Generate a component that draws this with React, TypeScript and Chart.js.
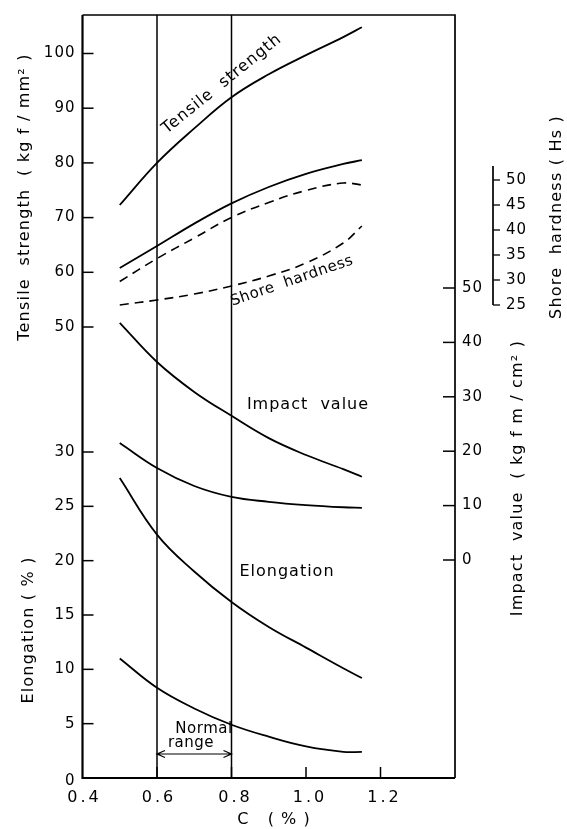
import React, { useEffect, useRef } from "react";
import { Chart, registerables } from "chart.js";

Chart.register(...registerables);

// ---- data ----
const carbon = [0.5, 0.6, 0.7, 0.8, 0.9, 1.0, 1.1, 1.15];
const tensileStrength = [72.3, 80.0, 86.3, 92.0, 96.2, 99.7, 103.0, 104.8];
const tensileLower = [60.8, 64.8, 68.9, 72.6, 75.6, 78.0, 79.8, 80.5];
const shoreUpper = [29.7, 34.3, 38.4, 42.5, 45.5, 47.9, 49.4, 49.0];
const shoreLower = [25.0, 26.0, 27.2, 28.8, 30.8, 33.4, 37.4, 40.8];
const impactUpper = [43.6, 36.4, 30.9, 26.5, 22.4, 19.3, 16.7, 15.3];
const impactLower = [21.5, 16.9, 13.6, 11.6, 10.7, 10.1, 9.7, 9.6];
const elongation = [27.6, 22.4, 19.0, 16.2, 13.9, 12.0, 10.1, 9.2];
const elongationLower = [11.0, 8.3, 6.4, 4.9, 3.8, 2.9, 2.4, 2.4];

const tensileTicks = [50, 60, 70, 80, 90, 100];
const elongationTicks = [0, 5, 10, 15, 20, 25, 30];
const impactTicks = [0, 10, 20, 30, 40, 50];
const shoreTicks = [25, 30, 35, 40, 45, 50];
const carbonTicks = [0.4, 0.6, 0.8, 1.0, 1.2];
const carbonTickLabels = ["0.4", "0.6", "0.8", "1.0", "1.2"];
const normalRange = [0.6, 0.8];

// ---- layout ----
const AREA_TOP = 15;
const AREA_BOTTOM = 778;
const AREA_LEFT = 82.5;
const AREA_RIGHT = 455;
const W = 567;
const H = 829;

// range of a linear axis from two reference ticks (value, pixel)
function axisRange(v1: number, p1: number, v2: number, p2: number) {
  const perPx = (v2 - v1) / (p1 - p2);
  return {
    min: v1 - (AREA_BOTTOM - p1) * perPx,
    max: v2 + (p2 - AREA_TOP) * perPx,
  };
}

const rT = axisRange(50, 327, 100, 53.5);
const rE = axisRange(0, 778, 30, 452);
const rI = axisRange(0, 560, 50, 288);
const rS = axisRange(25, 305, 50, 180);

const FONT = '"DejaVu Sans", sans-serif';

function pts(ys: number[]) {
  return carbon.map((c, i) => ({ x: c, y: ys[i] }));
}

const decorPlugin = {
  id: "decor",
  afterDatasetsDraw(chart: any) {
    const { ctx, chartArea: a, scales } = chart;
    const sx = scales.x;
    const yT = scales.yT;
    const yE = scales.yE;
    const yI = scales.yI;
    const yS = scales.yS;
    ctx.save();
    ctx.strokeStyle = "#000";
    ctx.fillStyle = "#000";
    ctx.lineCap = "butt";
    const spacing = (s: string) => {
      try {
        (ctx as any).letterSpacing = s;
      } catch (e) {
        /* ignore */
      }
    };

    // frame
    ctx.lineWidth = 2.2;
    ctx.beginPath();
    ctx.moveTo(a.left, a.top);
    ctx.lineTo(a.left, a.bottom);
    ctx.lineTo(a.right, a.bottom);
    ctx.stroke();
    ctx.lineWidth = 1.7;
    ctx.beginPath();
    ctx.moveTo(a.left, a.top);
    ctx.lineTo(a.right, a.top);
    ctx.lineTo(a.right, a.bottom);
    ctx.stroke();

    // normal range verticals
    ctx.lineWidth = 1.5;
    normalRange.forEach((v) => {
      const px = sx.getPixelForValue(v);
      ctx.beginPath();
      ctx.moveTo(px, a.top);
      ctx.lineTo(px, a.bottom);
      ctx.stroke();
    });

    ctx.font = `15px ${FONT}`;
    spacing("1px");
    ctx.textBaseline = "middle";

    // left ticks
    ctx.textAlign = "right";
    ctx.lineWidth = 1.5;
    tensileTicks.forEach((v) => {
      const y = yT.getPixelForValue(v);
      ctx.beginPath();
      ctx.moveTo(a.left, y);
      ctx.lineTo(a.left + 11, y);
      ctx.stroke();
      ctx.fillText(String(v), a.left - 7, y);
    });
    elongationTicks.forEach((v) => {
      const y = yE.getPixelForValue(v);
      if (v !== 0) {
        ctx.beginPath();
        ctx.moveTo(a.left, y);
        ctx.lineTo(a.left + 11, y);
        ctx.stroke();
      }
      ctx.fillText(String(v), a.left - 7, y + (v === 0 ? 3 : 0));
    });

    // right (impact) ticks
    ctx.textAlign = "left";
    impactTicks.forEach((v) => {
      const y = yI.getPixelForValue(v);
      ctx.beginPath();
      ctx.moveTo(a.right - 12, y);
      ctx.lineTo(a.right, y);
      ctx.stroke();
      ctx.fillText(String(v), a.right + 7, y);
    });

    // shore hardness axis
    const shX = a.right + 38;
    const shTop = yS.getPixelForValue(50) - 14;
    const shBot = yS.getPixelForValue(25);
    ctx.lineWidth = 1.7;
    ctx.beginPath();
    ctx.moveTo(shX, shTop);
    ctx.lineTo(shX, shBot);
    ctx.stroke();
    ctx.lineWidth = 1.3;
    shoreTicks.forEach((v) => {
      const y = yS.getPixelForValue(v);
      ctx.beginPath();
      ctx.moveTo(shX, y);
      ctx.lineTo(shX + 7, y);
      ctx.stroke();
      ctx.fillText(String(v), shX + 13, y);
    });

    // x ticks
    ctx.lineWidth = 1.5;
    ctx.font = `16px ${FONT}`;
    spacing("3px");
    carbonTicks.forEach((v, i) => {
      const px = sx.getPixelForValue(v);
      if (i > 0) {
        ctx.beginPath();
        ctx.moveTo(px, a.bottom - 11);
        ctx.lineTo(px, a.bottom);
        ctx.stroke();
      }
      ctx.textAlign = "center";
      ctx.fillText(carbonTickLabels[i], px + (i > 1 ? 4 : 2), a.bottom + 20);
    });
    spacing("1px");
    ctx.fillText("C   ( % )", 274, a.bottom + 42);

    // rotated axis titles
    const vtext = (t: string, x: number, y: number) => {
      ctx.save();
      ctx.translate(x, y);
      ctx.rotate(-Math.PI / 2);
      ctx.textAlign = "center";
      ctx.textBaseline = "middle";
      ctx.fillText(t, 0, 0);
      ctx.restore();
    };
    ctx.font = `16px ${FONT}`;
    spacing("1.2px");
    vtext("Tensile  strength  ( kg f / mm\u00B2 )", 25, 197);
    vtext("Elongation ( % )", 29, 630);
    vtext("Impact  value  ( kg f m / cm\u00B2 )", 518, 478);
    vtext("Shore  hardness ( Hs )", 557, 217);

    // in-plot annotations
    const rtext = (t: string, x: number, y: number, deg: number) => {
      ctx.save();
      ctx.translate(x, y);
      ctx.rotate((deg * Math.PI) / 180);
      ctx.textAlign = "center";
      ctx.textBaseline = "middle";
      ctx.fillText(t, 0, 0);
      ctx.restore();
    };
    spacing("1px");
    rtext("Tensile  strength", 222, 84, -39);
    rtext("Impact  value", 308, 405, 0);
    rtext("Elongation", 287, 572, 0);
    ctx.font = `15px ${FONT}`;
    spacing("0.5px");
    rtext("Shore  hardness", 292, 281, -19);
    rtext("Normal", 204, 729, 0);
    rtext("range", 191, 743, 0);

    // double arrow for normal range
    const ax1 = sx.getPixelForValue(normalRange[0]);
    const ax2 = sx.getPixelForValue(normalRange[1]);
    const ay = a.bottom - 24;
    ctx.lineWidth = 1.2;
    ctx.beginPath();
    ctx.moveTo(ax1, ay);
    ctx.lineTo(ax2, ay);
    ctx.moveTo(ax1 + 8, ay - 3.5);
    ctx.lineTo(ax1, ay);
    ctx.lineTo(ax1 + 8, ay + 3.5);
    ctx.moveTo(ax2 - 8, ay - 3.5);
    ctx.lineTo(ax2, ay);
    ctx.lineTo(ax2 - 8, ay + 3.5);
    ctx.stroke();

    ctx.restore();
  },
};

export default function App() {
  const ref = useRef<HTMLCanvasElement>(null);
  useEffect(() => {
    if (!ref.current) return;
    const solid = (label: string, ys: number[], axis: string) => ({
      label,
      data: pts(ys),
      yAxisID: axis,
      borderColor: "#000",
      borderWidth: 1.8,
      pointRadius: 0,
      fill: false,
      tension: 0.4,
    });
    const dashed = (label: string, ys: number[], axis: string) => ({
      ...solid(label, ys, axis),
      borderDash: [9, 6],
      borderWidth: 1.6,
    });
    const chart = new Chart(ref.current, {
      type: "line",
      data: {
        datasets: [
          solid("Tensile strength", tensileStrength, "yT"),
          solid("Tensile (lower)", tensileLower, "yT"),
          dashed("Shore hardness (upper)", shoreUpper, "yS"),
          dashed("Shore hardness", shoreLower, "yS"),
          solid("Impact value", impactUpper, "yI"),
          solid("Impact value (lower)", impactLower, "yI"),
          solid("Elongation", elongation, "yE"),
          solid("Elongation (lower)", elongationLower, "yE"),
        ],
      },
      options: {
        animation: false,
        responsive: true,
        maintainAspectRatio: false,
        devicePixelRatio: 1,
        layout: {
          padding: {
            left: AREA_LEFT,
            right: W - AREA_RIGHT,
            top: AREA_TOP,
            bottom: H - AREA_BOTTOM,
          },
        },
        plugins: {
          legend: { display: false },
          tooltip: { enabled: false },
          title: { display: false },
        },
        scales: {
          x: { type: "linear", min: 0.4, max: 1.4, display: false },
          yT: { type: "linear", min: rT.min, max: rT.max, display: false },
          yE: { type: "linear", min: rE.min, max: rE.max, display: false },
          yI: { type: "linear", min: rI.min, max: rI.max, display: false },
          yS: { type: "linear", min: rS.min, max: rS.max, display: false },
        },
      },
      plugins: [decorPlugin],
    });
    return () => chart.destroy();
  }, []);
  return (
    <div
      style={{
        position: "absolute",
        left: 0,
        top: 0,
        width: W,
        height: H,
        background: "#fff",
      }}
    >
      <canvas ref={ref} />
    </div>
  );
}
